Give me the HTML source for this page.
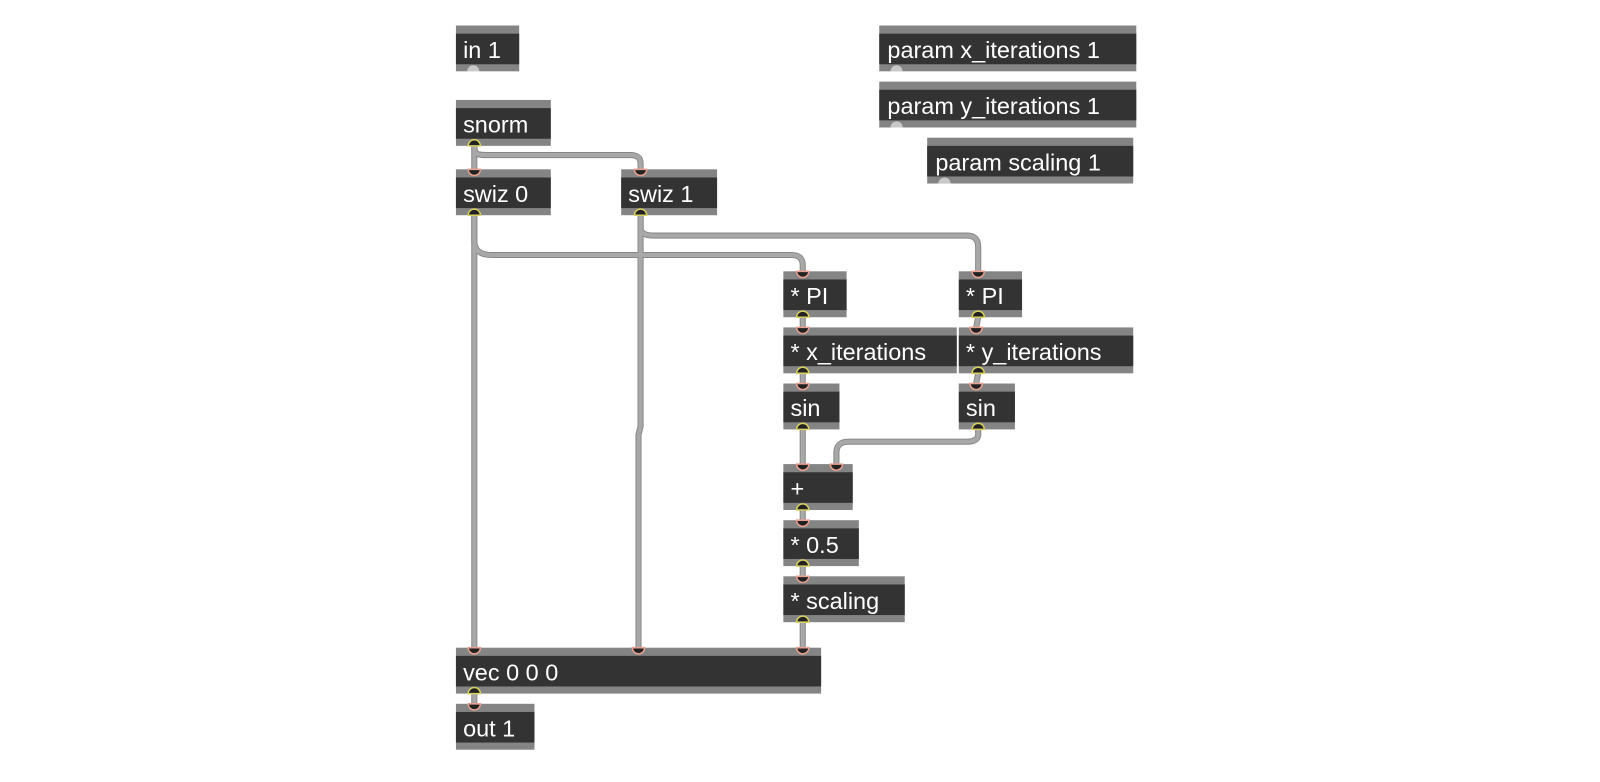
<!DOCTYPE html>
<html><head><meta charset="utf-8"><style>
html,body{margin:0;padding:0;background:#fff;}
svg{display:block}
text{font-family:"Liberation Sans",Arial,sans-serif;font-size:23px;fill:#fff;}
</style></head><body>
<svg width="1600" height="782" viewBox="0 0 1600 782" xmlns="http://www.w3.org/2000/svg">
<defs>
<g id="inl"><path d="M-6,0 A6,6 0 0 0 6,0 Z" fill="#222" stroke="#e8a090" stroke-width="1.5"/></g>
<g id="outl"><path d="M-6,0 A6,6 0 0 1 6,0 Z" fill="#222" stroke="#d8d060" stroke-width="1.5"/></g>
<g id="cables">
<path d="M465,143 L465,166"/>
<path d="M465,143 C465,152 468,152 480,152 L618,152 Q628,152 628,160 L628,166"/>
<path d="M465,211 L465,236 Q465,250 482,250 L776,250 Q787,250 787,260 L787,266"/>
<path d="M465,211 L465,635"/>
<path d="M628,211 L628,418 L626,426 L626,635"/>
<path d="M628,211 L628,224 Q628,231 642,231 L948,231 Q959,231 959,242 L959,266"/>
<path d="M787,311 L787,321"/><path d="M959,311 L957,321"/>
<path d="M787,366 L787,376"/><path d="M959,366 L957,376"/>
<path d="M787,421 L787,455"/>
<path d="M959,421 L959,426 Q959,433 948,433 L832,433 Q820,433 820,444 L820,455"/>
<path d="M787,500 L787,510"/><path d="M787,555 L787,565"/>
<path d="M787,610 L787,635"/>
<path d="M465,680 L465,690"/>
</g>
</defs>
<g transform="scale(1.02)">
<g fill="none" stroke-linecap="round" stroke-linejoin="round">
<use href="#cables" stroke="#888" stroke-width="6"/>
<use href="#cables" stroke="#a8a8a8" stroke-width="4"/>
</g>
<g transform="translate(447,25)"><rect width="62" height="45" fill="#848484"/><rect y="8" width="62" height="30" fill="#333"/><text x="7" y="32">in 1</text><circle cx="17" cy="45" r="6" fill="#c8c8c8"/><rect x="0" y="45" width="70" height="8" fill="#fff"/></g>
<g transform="translate(862,25)"><rect width="252" height="45" fill="#848484"/><rect y="8" width="252" height="30" fill="#333"/><text x="8" y="32">param x_iterations 1</text><circle cx="17" cy="45" r="6" fill="#c8c8c8"/><rect x="0" y="45" width="260" height="8" fill="#fff"/></g>
<g transform="translate(862,80)"><rect width="252" height="45" fill="#848484"/><rect y="8" width="252" height="30" fill="#333"/><text x="8" y="32">param y_iterations 1</text><circle cx="17" cy="45" r="6" fill="#c8c8c8"/><rect x="0" y="45" width="260" height="8" fill="#fff"/></g>
<g transform="translate(909,135)"><rect width="202" height="45" fill="#848484"/><rect y="8" width="202" height="30" fill="#333"/><text x="8" y="32">param scaling 1</text><circle cx="17" cy="45" r="6" fill="#c8c8c8"/><rect x="0" y="45" width="210" height="8" fill="#fff"/></g>

<g transform="translate(447,98)"><rect width="93" height="45" fill="#848484"/><rect y="8" width="93" height="30" fill="#333"/><text x="7" y="32">snorm</text><use href="#outl" x="18" y="45"/></g>
<g transform="translate(447,166)"><rect width="93" height="45" fill="#848484"/><rect y="8" width="93" height="30" fill="#333"/><text x="7" y="32">swiz 0</text><use href="#inl" x="18" y="0"/><use href="#outl" x="18" y="45"/></g>
<g transform="translate(609,166)"><rect width="94" height="45" fill="#848484"/><rect y="8" width="94" height="30" fill="#333"/><text x="7" y="32">swiz 1</text><use href="#inl" x="19" y="0"/><use href="#outl" x="19" y="45"/></g>
<g transform="translate(768,266)"><rect width="62" height="45" fill="#848484"/><rect y="8" width="62" height="30" fill="#333"/><text x="7" y="32">* PI</text><use href="#inl" x="19" y="0"/><use href="#outl" x="19" y="45"/></g>
<g transform="translate(940,266)"><rect width="62" height="45" fill="#848484"/><rect y="8" width="62" height="30" fill="#333"/><text x="7" y="32">* PI</text><use href="#inl" x="19" y="0"/><use href="#outl" x="19" y="45"/></g>
<g transform="translate(768,321)"><rect width="170" height="45" fill="#848484"/><rect y="8" width="170" height="30" fill="#333"/><text x="7" y="32">* x_iterations</text><use href="#inl" x="19" y="0"/><use href="#outl" x="19" y="45"/></g>
<g transform="translate(940,321)"><rect width="171" height="45" fill="#848484"/><rect y="8" width="171" height="30" fill="#333"/><text x="7" y="32">* y_iterations</text><use href="#inl" x="17" y="0"/><use href="#outl" x="19" y="45"/></g>
<g transform="translate(768,376)"><rect width="55" height="45" fill="#848484"/><rect y="8" width="55" height="30" fill="#333"/><text x="7" y="32">sin</text><use href="#inl" x="19" y="0"/><use href="#outl" x="19" y="45"/></g>
<g transform="translate(940,376)"><rect width="55" height="45" fill="#848484"/><rect y="8" width="55" height="30" fill="#333"/><text x="7" y="32">sin</text><use href="#inl" x="17" y="0"/><use href="#outl" x="19" y="45"/></g>
<g transform="translate(768,455)"><rect width="68" height="45" fill="#848484"/><rect y="8" width="68" height="30" fill="#333"/><text x="7" y="32">+</text><use href="#inl" x="19" y="0"/><use href="#inl" x="52" y="0"/><use href="#outl" x="19" y="45"/></g>
<g transform="translate(768,510)"><rect width="74" height="45" fill="#848484"/><rect y="8" width="74" height="30" fill="#333"/><text x="7" y="32">* 0.5</text><use href="#inl" x="19" y="0"/><use href="#outl" x="19" y="45"/></g>
<g transform="translate(768,565)"><rect width="119" height="45" fill="#848484"/><rect y="8" width="119" height="30" fill="#333"/><text x="7" y="32">* scaling</text><use href="#inl" x="19" y="0"/><use href="#outl" x="19" y="45"/></g>
<g transform="translate(447,635)"><rect width="358" height="45" fill="#848484"/><rect y="8" width="358" height="30" fill="#333"/><text x="7" y="32">vec 0 0 0</text><use href="#inl" x="18" y="0"/><use href="#inl" x="179" y="0"/><use href="#inl" x="340" y="0"/><use href="#outl" x="18" y="45"/></g>
<g transform="translate(447,690)"><rect width="77" height="45" fill="#848484"/><rect y="8" width="77" height="30" fill="#333"/><text x="7" y="32">out 1</text><use href="#inl" x="18" y="0"/></g>
</g>
</svg>
</body></html>
